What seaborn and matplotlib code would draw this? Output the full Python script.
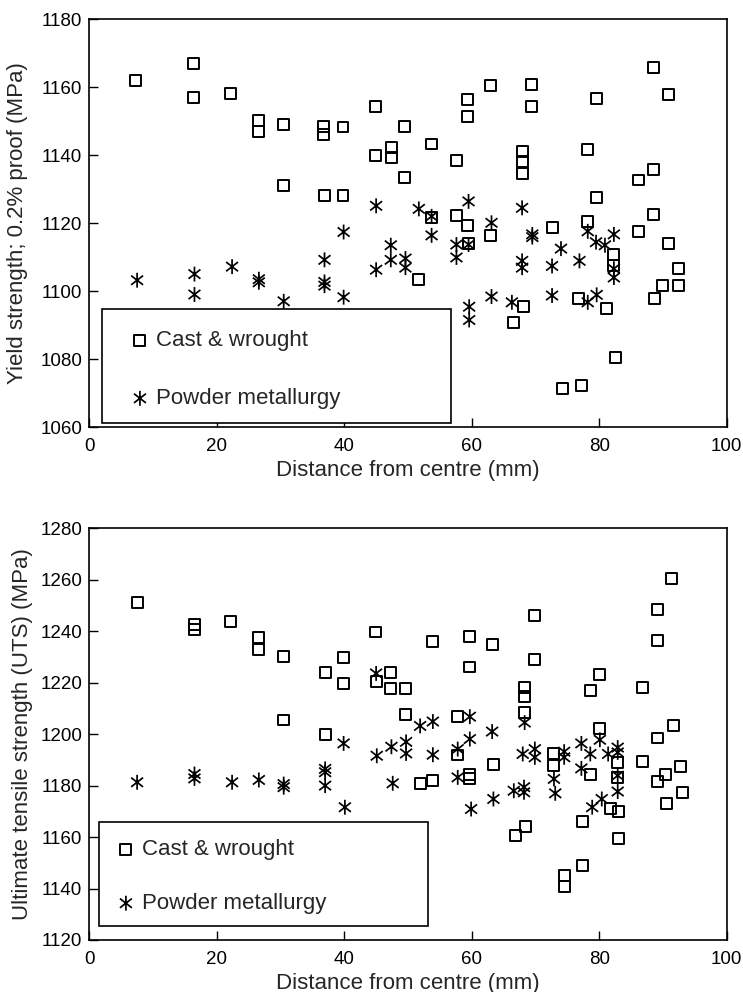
import numpy as np
import pandas as pd
import matplotlib
matplotlib.use("Agg")
import matplotlib.pyplot as plt
from matplotlib.path import Path
from matplotlib.patches import Rectangle
import seaborn as sns

# ---------------- data ----------------
# Yield strength, cast & wrought
ys_cw_x = [7.3, 16.4, 16.4, 22.1, 26.6, 26.6, 30.4, 30.4, 36.8, 36.8, 36.9, 39.8, 39.8,
           44.9, 44.9, 47.4, 47.4, 49.5, 49.5, 51.7, 53.7, 53.7, 57.6, 57.6, 59.4, 59.4,
           59.4, 59.5, 63.0, 63.0, 66.6, 67.9, 67.9, 67.9, 68.1, 69.4, 69.4, 72.6, 74.3,
           76.8, 77.2, 78.2, 78.2, 79.5, 79.6, 81.1, 82.3, 82.3, 82.5, 86.2, 86.2, 88.5,
           88.5, 88.5, 88.6, 89.9, 90.9, 90.9, 92.4, 92.4]
ys_cw_y = [1162.0, 1167.0, 1157.0, 1158.2, 1150.3, 1147.1, 1149.1, 1131.1, 1148.5, 1146.2,
           1128.1, 1148.3, 1128.1, 1154.4, 1140.0, 1142.3, 1139.3, 1148.5, 1133.4, 1103.3,
           1143.3, 1121.8, 1138.4, 1122.2, 1156.3, 1151.5, 1119.3, 1114.0, 1160.5, 1116.5,
           1090.8, 1141.2, 1138.1, 1134.5, 1095.4, 1160.8, 1154.4, 1118.6, 1071.3, 1097.7,
           1072.3, 1141.7, 1120.6, 1127.6, 1156.8, 1094.8, 1110.8, 1107.4, 1080.5, 1132.7,
           1117.6, 1165.8, 1135.9, 1122.5, 1097.9, 1101.6, 1157.8, 1113.9, 1106.6, 1101.6]

# Yield strength, powder metallurgy
ys_pm_x = [7.5, 16.5, 16.5, 22.4, 26.6, 26.6, 30.5, 36.9, 36.9, 36.9, 39.9, 39.9, 45.0,
           45.0, 47.3, 47.3, 49.6, 49.6, 51.7, 53.7, 53.7, 57.6, 57.6, 59.5, 59.5, 59.6,
           59.6, 63.1, 63.1, 66.3, 67.9, 67.9, 67.9, 69.5, 69.5, 72.6, 72.6, 74.0, 76.9,
           78.2, 78.2, 79.5, 79.6, 80.9, 82.3, 82.3, 82.3]
ys_pm_y = [1103.2, 1105.0, 1099.0, 1107.2, 1103.5, 1102.6, 1097.0, 1109.2, 1102.7, 1101.6,
           1117.4, 1098.2, 1125.1, 1106.3, 1113.5, 1109.2, 1109.6, 1106.9, 1124.2, 1122.0,
           1116.4, 1113.7, 1109.9, 1126.4, 1113.7, 1095.4, 1091.5, 1120.1, 1098.4, 1096.7,
           1124.5, 1108.9, 1106.9, 1116.7, 1115.9, 1107.4, 1098.7, 1112.5, 1108.9, 1117.6,
           1096.7, 1114.4, 1098.9, 1113.5, 1116.7, 1106.6, 1104.0]

# UTS, cast & wrought
uts_cw_x = [7.5, 16.5, 16.5, 22.1, 26.6, 26.6, 30.5, 30.5, 37.0, 37.0, 39.9, 39.9, 44.9,
            45.0, 47.3, 47.3, 49.6, 49.6, 52.0, 53.8, 53.9, 57.8, 57.8, 59.7, 59.7, 59.7,
            59.7, 63.3, 63.4, 66.8, 68.3, 68.3, 68.3, 68.4, 69.9, 69.9, 72.9, 72.9, 74.6,
            74.6, 77.4, 77.4, 78.7, 78.6, 80.1, 80.1, 81.7, 82.9, 82.9, 83.0, 83.0, 86.8,
            86.8, 89.1, 89.1, 89.1, 89.1, 90.4, 90.6, 91.4, 91.6, 92.8, 93.0]
uts_cw_y = [1251.0, 1242.5, 1240.5, 1243.6, 1237.4, 1232.9, 1230.3, 1205.5, 1223.9, 1200.0,
            1229.9, 1219.7, 1239.7, 1220.6, 1223.9, 1217.7, 1217.7, 1207.7, 1180.9, 1235.9,
            1181.9, 1206.8, 1191.9, 1238.1, 1226.1, 1184.5, 1182.8, 1234.8, 1188.1, 1160.6,
            1218.0, 1214.8, 1208.4, 1164.2, 1246.2, 1229.0, 1192.3, 1187.7, 1145.0, 1140.7,
            1166.1, 1149.1, 1217.0, 1184.5, 1223.2, 1202.2, 1171.2, 1189.0, 1183.0, 1170.0,
            1159.6, 1218.3, 1189.3, 1248.4, 1236.4, 1198.5, 1181.5, 1184.5, 1172.9, 1260.4,
            1203.5, 1187.5, 1177.4]

# UTS, powder metallurgy
uts_pm_x = [7.5, 16.5, 16.5, 22.4, 26.6, 30.5, 30.5, 37.0, 37.0, 37.0, 39.9, 40.1, 45.0,
            45.1, 47.4, 47.6, 49.7, 49.7, 51.9, 53.9, 53.9, 57.8, 57.8, 59.7, 59.7, 59.9,
            63.2, 63.4, 66.6, 68.3, 68.0, 68.2, 68.2, 69.9, 69.9, 72.9, 73.1, 74.5, 74.5,
            77.2, 77.2, 78.6, 78.9, 80.1, 80.4, 81.4, 82.9, 82.9, 82.9, 82.9]
uts_pm_y = [1181.3, 1184.5, 1182.8, 1181.3, 1182.2, 1180.6, 1179.4, 1186.5, 1185.2, 1180.0,
            1196.4, 1171.6, 1223.6, 1191.6, 1195.1, 1180.9, 1197.0, 1192.5, 1203.2, 1204.9,
            1192.0, 1194.2, 1183.2, 1206.8, 1198.1, 1170.9, 1201.0, 1174.8, 1178.0, 1204.5,
            1192.3, 1179.4, 1177.4, 1194.2, 1191.0, 1182.6, 1177.0, 1193.2, 1191.0, 1196.4,
            1186.7, 1192.3, 1171.6, 1197.8, 1174.8, 1192.3, 1194.8, 1192.9, 1183.9, 1177.7]

series_labels = ["Cast & wrought", "Powder metallurgy"]
x_label = "Distance from centre (mm)"
y_label_top = "Yield strength; 0.2% proof (MPa)"
y_label_bot = "Ultimate tensile strength (UTS) (MPa)"
x_ticks = [0, 20, 40, 60, 80, 100]
y_ticks_top = [1060, 1080, 1100, 1120, 1140, 1160, 1180]
y_ticks_bot = [1120, 1140, 1160, 1180, 1200, 1220, 1240, 1260, 1280]

# ---------------- style ----------------
sns.set_style("white")
plt.rcParams["font.family"] = ["Liberation Sans", "DejaVu Sans"]

# asterisk marker: vertical bar + X
star = Path([(0, -1), (0, 1), (-0.8, -0.62), (0.8, 0.62), (-0.8, 0.62), (0.8, -0.62)],
            [Path.MOVETO, Path.LINETO, Path.MOVETO, Path.LINETO, Path.MOVETO, Path.LINETO])

W, H = 743, 992
fig = plt.figure(figsize=(W / 100, H / 100), dpi=100)
ax1 = fig.add_axes([89.3 / W, 1 - 427 / H, (726.7 - 89.3) / W, (427 - 19.3) / H])
ax2 = fig.add_axes([89.3 / W, 1 - 940 / H, (726.7 - 89.3) / W, (940 - 528.3) / H])

TICK_FS = 13.5
LABEL_FS = 16


def draw(ax, cw_x, cw_y, pm_x, pm_y, ylim, yticks, ylabel, leg_rect, leg_anchor,
         leg_spacing, ylab_x):
    cw = pd.DataFrame({"x": cw_x, "y": cw_y})
    pm = pd.DataFrame({"x": pm_x, "y": pm_y})
    sns.scatterplot(data=cw, x="x", y="y", ax=ax, marker="s", s=62,
                    facecolors="none", edgecolor="black", linewidth=1.4,
                    label=series_labels[0], legend=False, zorder=2)
    sns.scatterplot(data=pm, x="x", y="y", ax=ax, marker=star, s=115,
                    facecolors="none", edgecolor="black", linewidth=1.25,
                    label=series_labels[1], legend=False, zorder=2)
    ax.set_xlim(0, 100)
    ax.set_ylim(*ylim)
    ax.set_xticks(x_ticks)
    ax.set_yticks(yticks)
    ax.tick_params(axis="both", direction="in", length=6.5, width=1.0,
                   labelsize=TICK_FS, colors="black", bottom=True, left=True,
                   top=False, right=False)
    ax.tick_params(axis="x", pad=8)
    ax.tick_params(axis="y", pad=5)
    for sp in ax.spines.values():
        sp.set_linewidth(1.2)
        sp.set_color("black")
        sp.set_visible(True)
    ax.set_xlabel(x_label, fontsize=LABEL_FS)
    ax.set_ylabel(ylabel, fontsize=LABEL_FS)
    ax.xaxis.label.set_verticalalignment("top")
    ax.xaxis.set_label_coords(0.5, -0.08)
    ax.yaxis.set_label_coords(ylab_x, 0.5)
    (x0, y0, w, h) = leg_rect
    ax.add_patch(Rectangle((x0, y0), w, h, transform=ax.transData, facecolor="white",
                           edgecolor="black", linewidth=1.2, zorder=3))
    leg = ax.legend(loc="center left", bbox_to_anchor=leg_anchor,
                    bbox_transform=ax.transData, frameon=False, fontsize=LABEL_FS,
                    scatterpoints=1, handlelength=1.0, handletextpad=0.23,
                    labelspacing=leg_spacing, borderpad=0, borderaxespad=0)
    leg.set_zorder(4)


draw(ax1, ys_cw_x, ys_cw_y, ys_pm_x, ys_pm_y, (1060, 1180), y_ticks_top, y_label_top,
     (1.95, 1061.3, 54.75, 33.3), (6.2, 1076.9), 1.67, -0.096)
draw(ax2, uts_cw_x, uts_cw_y, uts_pm_x, uts_pm_y, (1120, 1280), y_ticks_bot, y_label_bot,
     (1.5, 1125.3, 51.7, 40.7), (4.0, 1144.6), 1.47, -0.088)

fig.savefig("out.png", dpi=100)
